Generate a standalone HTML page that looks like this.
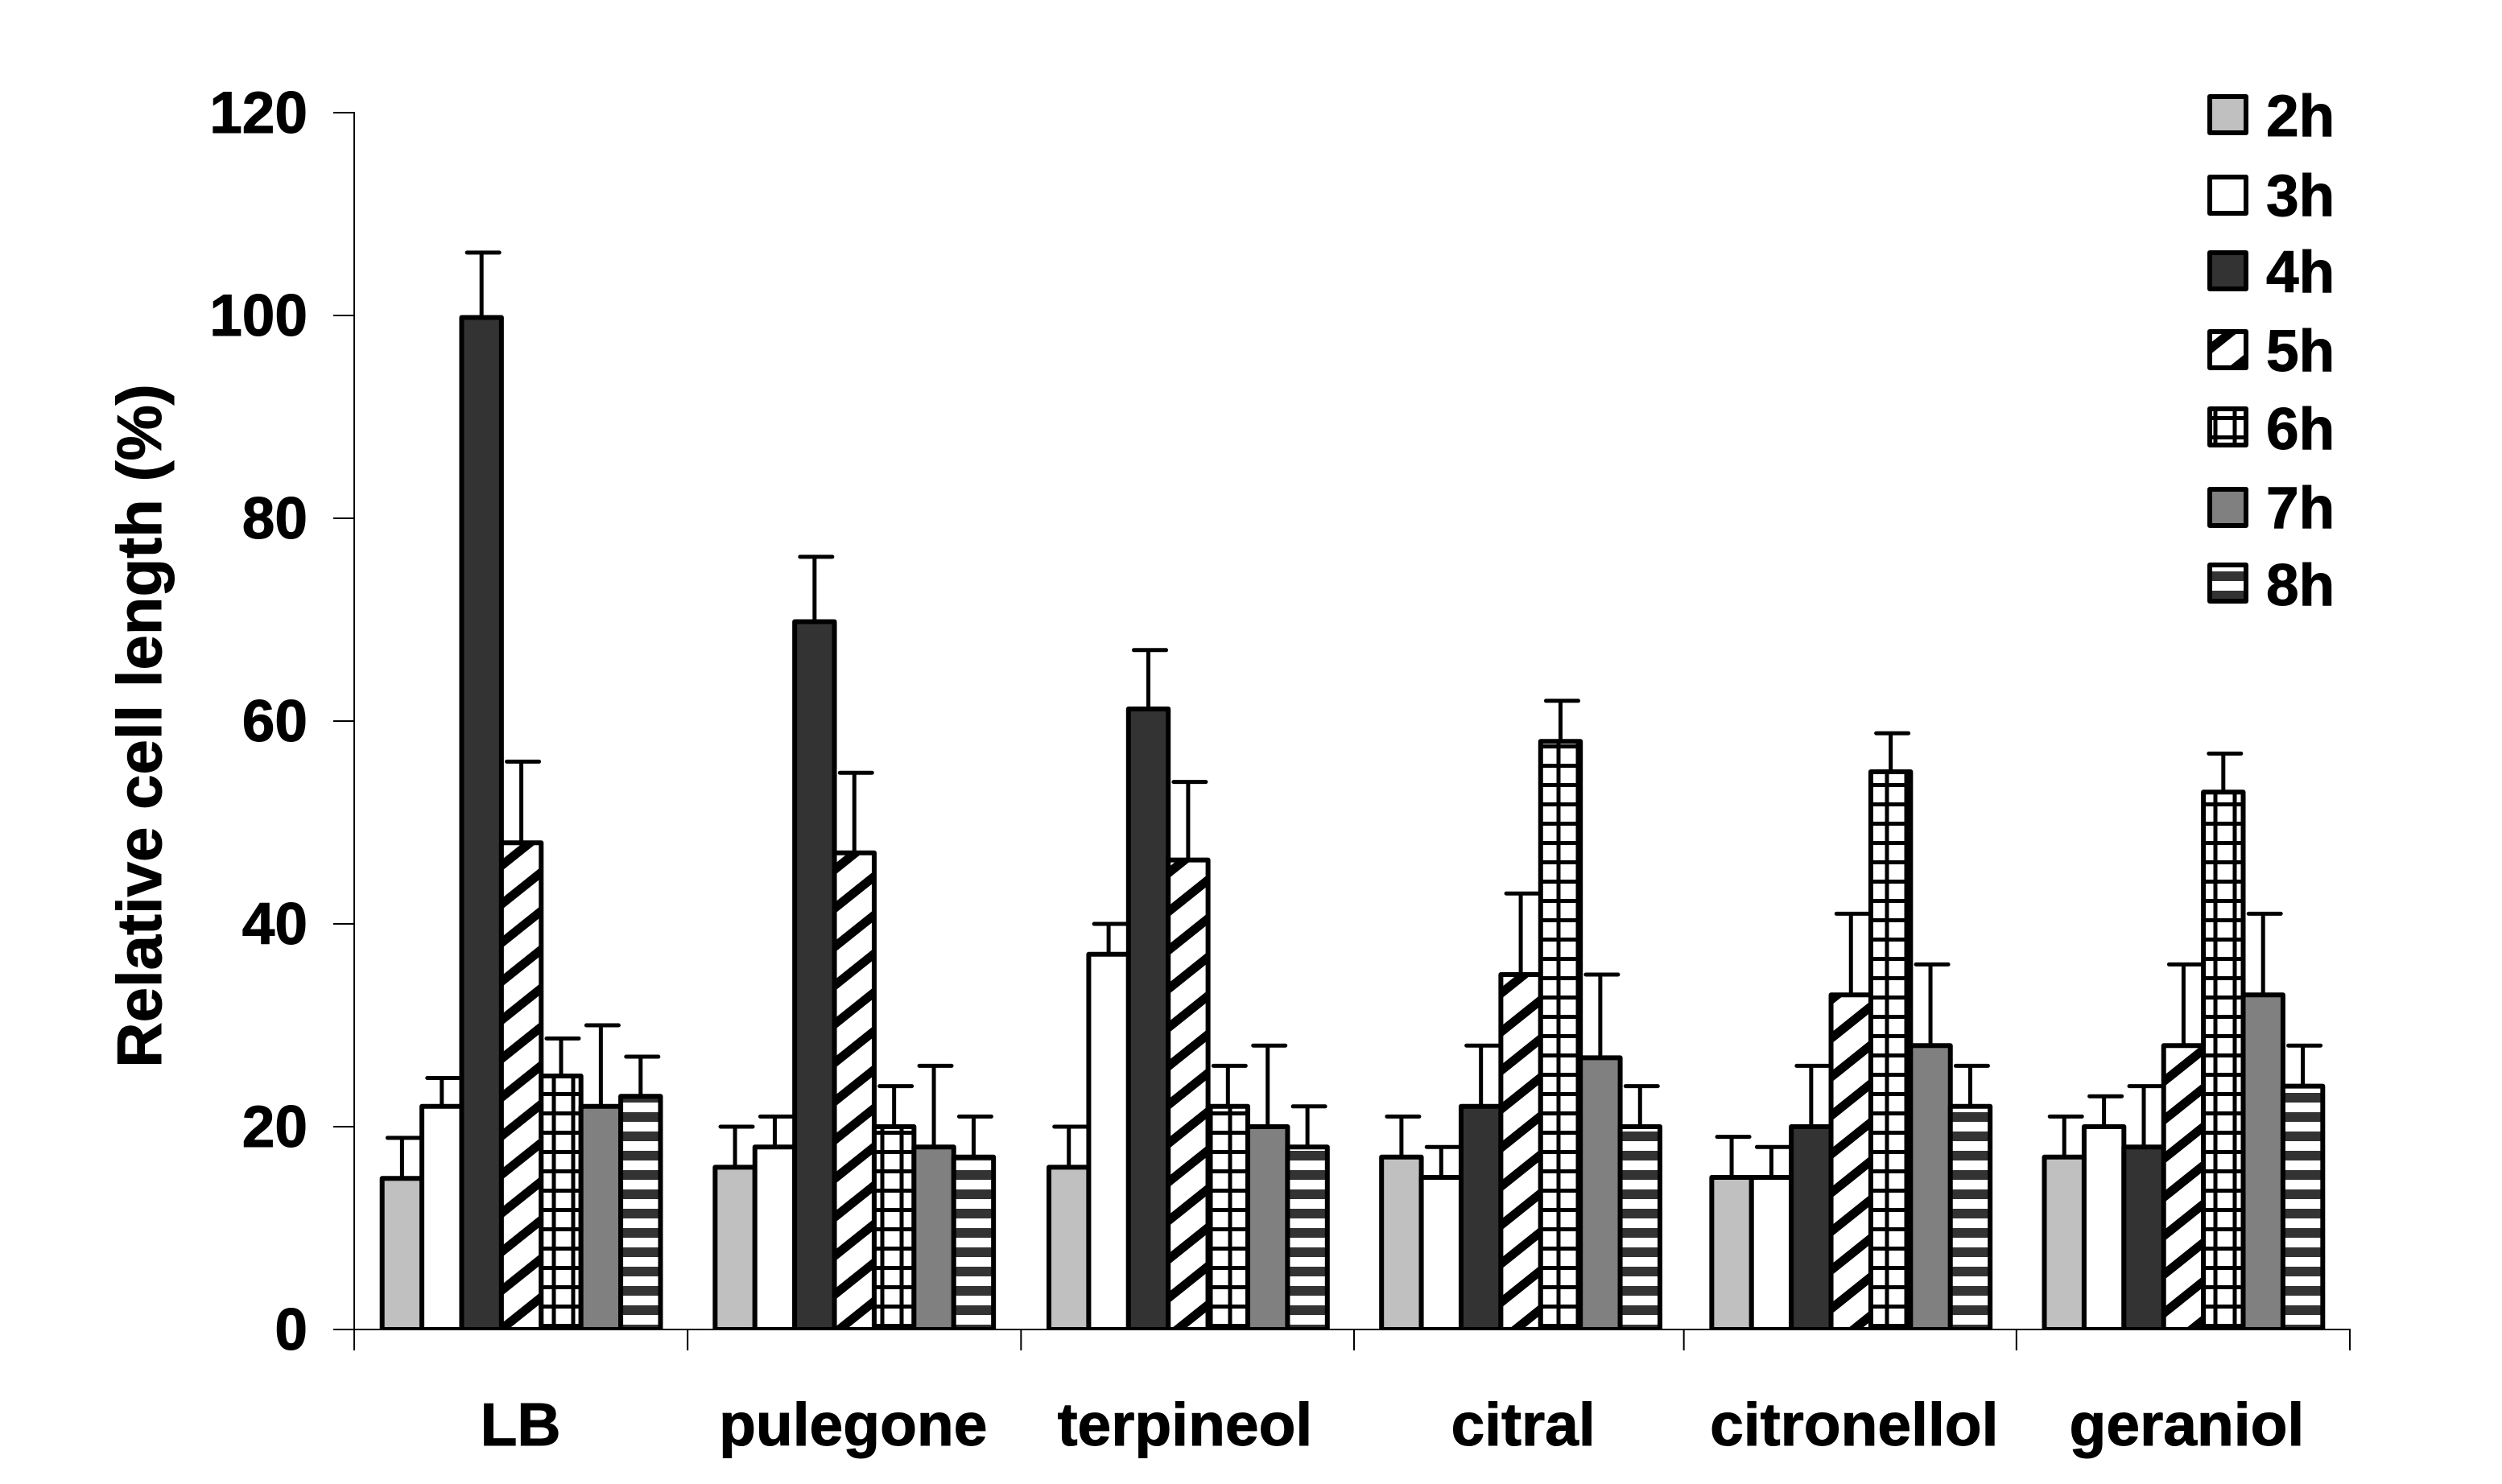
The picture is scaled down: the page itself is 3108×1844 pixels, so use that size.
<!DOCTYPE html>
<html lang="en">
<head>
<meta charset="utf-8">
<title>Relative cell length chart</title>
<style>
html,body{margin:0;padding:0;background:#fff;}
svg{display:block;}
text{font-family:"Liberation Sans",Arial,sans-serif;font-weight:bold;fill:#000;stroke:#000;stroke-width:1;}
</style>
</head>
<body>
<svg id="chart" xmlns="http://www.w3.org/2000/svg" width="3108" height="1844" viewBox="0 0 3108 1844">
  <defs>
    <pattern id="hatch-diagonal" patternUnits="userSpaceOnUse" width="60" height="48">
      <rect width="60" height="48" fill="#fff"/>
      <path d="M-10 45.9L70 -18.1M-10 93.9L70 29.9M-10 -2.1L70 -66.1M-10 141.9L70 77.9" stroke="#000" stroke-width="11" fill="none"/>
    </pattern>
    <pattern id="hatch-grid" patternUnits="userSpaceOnUse" width="24" height="24">
      <rect width="24" height="24" fill="#fff"/>
      <rect x="13.5" y="0" width="5" height="24" fill="#000"/>
      <rect x="0" y="13" width="24" height="5" fill="#000"/>
    </pattern>
    <pattern id="hatch-stripes" patternUnits="userSpaceOnUse" width="24" height="24">
      <rect width="24" height="24" fill="#fff"/>
      <rect x="0" y="14" width="24" height="10" fill="#333"/>
      <rect x="0" y="0" width="24" height="2" fill="#333"/>
    </pattern>
  </defs>
  <rect x="0" y="0" width="3108" height="1844" fill="#fff"/>
  <g id="bars"></g>
  <rect x="420" y="1653" width="2520" height="12" fill="#fff"/>
  <g id="axes"></g>
  <text transform="translate(200,902) rotate(-90)" text-anchor="middle" font-size="78">Relative cell length (%)</text>

  <g>
    <g>
      <rect x="2745" y="120" width="45" height="45" fill="#c0c0c0" stroke="#000" stroke-width="6" stroke-linejoin="round"/>
      <text x="2815" y="169" font-size="73">2h</text>
    </g>
    <g>
      <rect x="2745" y="220" width="45" height="45" fill="#fff" stroke="#000" stroke-width="6" stroke-linejoin="round"/>
      <text x="2815" y="268" font-size="73">3h</text>
    </g>
    <g>
      <rect x="2745" y="314" width="45" height="45" fill="#333" stroke="#000" stroke-width="6" stroke-linejoin="round"/>
      <text x="2815" y="363" font-size="73">4h</text>
    </g>
    <g>
      <rect x="2745" y="412" width="45" height="45" fill="url(#hatch-diagonal)" stroke="#000" stroke-width="6" stroke-linejoin="round"/>
      <text x="2815" y="461" font-size="73">5h</text>
    </g>
    <g>
      <rect x="2745" y="508" width="45" height="45" fill="url(#hatch-grid)" stroke="#000" stroke-width="6" stroke-linejoin="round"/>
      <text x="2815" y="558" font-size="73">6h</text>
    </g>
    <g>
      <rect x="2745" y="608" width="45" height="45" fill="#808080" stroke="#000" stroke-width="6" stroke-linejoin="round"/>
      <text x="2815" y="656" font-size="73">7h</text>
    </g>
    <g>
      <rect x="2745" y="702" width="45" height="45" fill="url(#hatch-stripes)" stroke="#000" stroke-width="6" stroke-linejoin="round"/>
      <text x="2815" y="752" font-size="73">8h</text>
    </g>
  </g>
</svg>
<script>
const categories = ['LB', 'pulegone', 'terpineol', 'citral', 'citronellol', 'geraniol'];
const seriesNames = ['2h', '3h', '4h', '5h', '6h', '7h', '8h'];
const yTickLabels = [0, 20, 40, 60, 80, 100, 120];

const values2h = [14.9, 16, 16, 17, 15, 17];
const values3h = [22, 18, 37, 15, 15, 20];
const values4h = [99.8, 69.8, 61.2, 22, 20, 18];
const values5h = [48, 47, 46.3, 35, 33, 28];
const values6h = [25, 20, 22, 58, 55, 53];
const values7h = [22, 18, 20, 26.8, 28, 33];
const values8h = [23, 17, 18, 20, 22, 24];

const errors2h = [4, 4, 4, 4, 4, 4];
const errors3h = [2.8, 3, 3, 3, 3, 3];
const errors4h = [6.4, 6.4, 5.8, 6, 6, 6];
const errors5h = [8, 7.9, 7.7, 8, 8, 8];
const errors6h = [3.7, 4, 4, 4, 3.8, 3.8];
const errors7h = [8, 8, 8, 8.2, 8, 8];
const errors8h = [3.9, 4, 4, 4, 4, 4];

const allValues = [values2h, values3h, values4h, values5h, values6h, values7h, values8h];
const allErrors = [errors2h, errors3h, errors4h, errors5h, errors6h, errors7h, errors8h];
const seriesFills = ['#c0c0c0', '#fff', '#333', 'url(#hatch-diagonal)', 'url(#hatch-grid)', '#808080', 'url(#hatch-stripes)'];

const NS = 'http://www.w3.org/2000/svg';
const plotLeft = 440;
const plotRight = 2919;
const plotTop = 140;
const plotBottom = 1652;
const yMax = 120;
const barWidth = 49.4;
const groupNudge = [1, 1.5, 3, 3, 0, 0];
const tickNudge = [0, 1, 2, 2.5, -1, -1, 0];
const labelNudge = [0, 0, -1, 6, 4, 4];

function yScale(v) {
  return plotBottom - (v / yMax) * (plotBottom - plotTop);
}
function groupWidth() {
  return (plotRight - plotLeft) / categories.length;
}
function groupLeft(c) {
  return plotLeft + c * groupWidth();
}
function barLeft(c, s) {
  const pad = (groupWidth() - barWidth * seriesNames.length) / 2;
  return groupLeft(c) + pad + s * barWidth + groupNudge[c];
}
function make(tag, attrs, parent) {
  const el = document.createElementNS(NS, tag);
  for (const k in attrs) el.setAttribute(k, attrs[k]);
  parent.appendChild(el);
  return el;
}

const barsLayer = document.getElementById('bars');
const axesLayer = document.getElementById('axes');

seriesNames.forEach(function (name, s) {
  categories.forEach(function (cat, c) {
    const v = allValues[s][c];
    const e = allErrors[s][c];
    const x = barLeft(c, s);
    const cx = x + barWidth / 2;
    const top = yScale(v);
    const errTop = yScale(v + e);

    const stem = make('line', { x1: cx, x2: cx, y1: top, y2: errTop, stroke: '#000', 'stroke-width': 5 }, barsLayer);
    
    

    const cap = make('line', { x1: cx - 18, x2: cx + 22, y1: errTop, y2: errTop, stroke: '#000', 'stroke-width': 5, 'stroke-linecap': 'round' }, barsLayer);
    
    

    const bar = make('rect', { x: x, y: top, width: barWidth, height: plotBottom - top, fill: seriesFills[s], stroke: '#000', 'stroke-width': 6, 'stroke-linejoin': 'round' }, barsLayer);
    
    
  });
});

const yAxisLine = make('line', { x1: plotLeft, x2: plotLeft, y1: plotTop - 1, y2: plotBottom + 26, stroke: '#000', 'stroke-width': 2 }, axesLayer);



const xAxisLine = make('line', { x1: plotLeft - 26, x2: plotRight + 1, y1: plotBottom, y2: plotBottom, stroke: '#000', 'stroke-width': 2 }, axesLayer);



yTickLabels.forEach(function (t) {
  const y = yScale(t);
  const tick = make('line', { x1: plotLeft - 26, x2: plotLeft, y1: y, y2: y, stroke: '#000', 'stroke-width': 2 }, axesLayer);
  
  
  const label = make('text', { x: 382, y: y + 25, 'text-anchor': 'end', 'font-size': 73 }, axesLayer);
  label.textContent = String(t);
  
  
});

for (let c = 0; c <= categories.length; c++) {
  const x = groupLeft(c) + tickNudge[c];
  const tick = make('line', { x1: x, x2: x, y1: plotBottom, y2: plotBottom + 26, stroke: '#000', 'stroke-width': 2 }, axesLayer);
  
  
}

categories.forEach(function (cat, c) {
  const label = make('text', { x: groupLeft(c) + groupWidth() / 2 + labelNudge[c], y: 1796, 'text-anchor': 'middle', 'font-size': 75 }, axesLayer);
  label.textContent = cat;
  
  
});
</script>
</body>
</html>
